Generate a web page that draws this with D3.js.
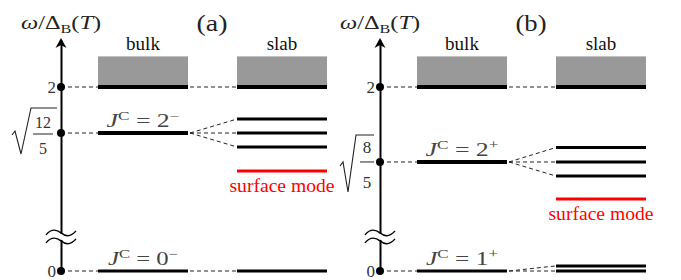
<!DOCTYPE html>
<html><head><meta charset="utf-8">
<script src="https://cdn.jsdelivr.net/npm/d3@7"></script>
<style>body{margin:0;background:#fff} svg{display:block}</style>
</head><body><svg id="c" width="681" height="280"></svg>
<script>
// ---- data ----
const panels = ["(a)", "(b)"];
const columns = ["bulk", "slab"];
const axisTicks = [[0, 2], [0, 2]];
const sqrtTicks = [1.549, 1.265];
const sqrtNumerators = ["12", "8"];
const sqrtDenominators = ["5", "5"];
const continuumBottom = [2, 2];
const continuumTop = [2.3, 2.3];
const bulkLevels = [[2, 1.549, 0], [2, 1.265, 0]];
const slabLevels = [[[2], [1.686, 1.549, 1.412], [0]], [[2], [1.407, 1.265, 1.127], [0.05, 0]]];
const surfaceLevels = [1.176, 0.902];
const modeLevels = [[1.549, 0], [1.265, 0]];
const modeJ = [["2", "0"], ["2", "1"]];
const modeParity = [["\u2212", "\u2212"], ["+", "+"]];
const surfaceLabel = "surface mode";

// ---- pick an installed serif font if any ----
function pickFont() {
  const cands = ["Liberation Serif", "DejaVu Serif", "Noto Serif", "Times New Roman", "Tinos", "FreeSerif", "Nimbus Roman", "Latin Modern Roman", "CMU Serif"];
  const ctx = document.createElement("canvas").getContext("2d");
  const probe = "mmmmmmmmmmlli bulk WQ@#";
  const w = f => { ctx.font = "40px " + f; return ctx.measureText(probe).width; };
  const base1 = w("monospace"), base2 = w("sans-serif");
  for (const c of cands) {
    const a = w(`"${c}", monospace`), b = w(`"${c}", sans-serif`);
    if (a !== base1 || b !== base2) return `"${c}", serif`;
  }
  return "serif";
}
const fontFam = pickFont();

// ---- scales ----
const upper = v => 87 + (2 - v) * 102;
const yDomain = [0, 0.3, 0.8, 2.46];
const y = d3.scaleLinear().domain(yDomain)
  .range([271, 271 - 0.3 * 102, upper(0.8), upper(2.46)]);
const panelX = d3.scalePoint().domain(panels).range([0, 319]);
const x = d3.scaleBand().domain(columns).range([98, 327]).paddingInner(0.3525).paddingOuter(0);
const axisX = 61;

const svg = d3.select("#c").style("font-family", fontFam);
const sqrtGeom = [
  {hook: [12, 2, 15, -2], bottom: [21, 21], top: [31, -25], barEnd: 57, numX: 43, numY: -5, fracX: [33, 53], fracY: 1, denY: 21, fs: 16},
  {hook: [21, 4, 24, 0], bottom: [29, 30], top: [37, -27], barEnd: 55, numX: 48, numY: -9, fracX: [41, 55], fracY: 0, denY: 26, fs: 17}
];
const jWidths = [[73, 70], [73, 72]];

panels.forEach((p, i) => {
  const g = svg.append("g").attr("transform", `translate(${panelX(p)},0)`);

  // continuum rectangles
  columns.forEach(c => {
    g.append("rect").attr("x", x(c)).attr("width", x.bandwidth())
      .attr("y", y(continuumTop[i])).attr("height", y(continuumBottom[i]) - y(continuumTop[i]))
      .attr("fill", "#999999");
    g.append("text").attr("x", x(c) + x.bandwidth() / 2).attr("y", 50)
      .attr("text-anchor", "middle").attr("font-size", 19)
      .attr("fill", "#111").text(c);
  });

  // dashed lines: axis -> bulk
  const allTicks = axisTicks[i].concat([sqrtTicks[i]]);
  allTicks.forEach(t => {
    g.append("line").attr("x1", axisX).attr("x2", x("bulk")).attr("y1", y(t)).attr("y2", y(t))
      .attr("stroke", "#222").attr("stroke-width", 1).attr("stroke-dasharray", "4,3");
  });
  // dashed: bulk -> slab
  bulkLevels[i].forEach((b, k) => {
    slabLevels[i][k].forEach(s => {
      g.append("line").attr("x1", x("bulk") + x.bandwidth() + 2).attr("x2", x("slab"))
        .attr("y1", y(b)).attr("y2", y(s))
        .attr("stroke", "#222").attr("stroke-width", 1).attr("stroke-dasharray", "4,3");
    });
  });

  // bulk levels
  bulkLevels[i].forEach(b => {
    g.append("line").attr("x1", x("bulk")).attr("x2", x("bulk") + x.bandwidth())
      .attr("y1", y(b)).attr("y2", y(b)).attr("stroke", "#000").attr("stroke-width", b === 0 ? 3 : 4);
  });
  // slab levels
  slabLevels[i].forEach(group => group.forEach(s => {
    g.append("line").attr("x1", x("slab")).attr("x2", x("slab") + x.bandwidth())
      .attr("y1", y(s)).attr("y2", y(s)).attr("stroke", "#000").attr("stroke-width", s === 2 ? 4 : 3);
  }));
  // surface mode
  g.append("line").attr("x1", x("slab")).attr("x2", x("slab") + x.bandwidth())
    .attr("y1", y(surfaceLevels[i])).attr("y2", y(surfaceLevels[i]))
    .attr("stroke", "#ff0000").attr("stroke-width", 3);
  g.append("text").attr("x", x("slab") + x.bandwidth() / 2).attr("y", y(surfaceLevels[i]) + 21)
    .attr("text-anchor", "middle").attr("font-size", 19)
    .attr("fill", "#ff0000").attr("textLength", 105).attr("lengthAdjust", "spacingAndGlyphs")
    .text(surfaceLabel);

  // mode labels
  modeLevels[i].forEach((m, k) => {
    const t = g.append("text").attr("x", x("bulk") + x.bandwidth() / 2).attr("y", y(m) - 6)
      .attr("text-anchor", "middle").attr("font-size", 18)
      .attr("fill", "#444").attr("textLength", jWidths[i][k]).attr("lengthAdjust", "spacingAndGlyphs");
    t.append("tspan").attr("font-style", "italic").text("J");
    t.append("tspan").attr("font-size", 12).attr("dy", -7).text("C");
    t.append("tspan").attr("dy", 7).text(" = " + modeJ[i][k]);
    t.append("tspan").attr("font-size", 12).attr("dy", -7).text(modeParity[i][k]);
  });

  // axis
  const ax = g.append("g").attr("transform", `translate(${axisX},0)`)
    .call(d3.axisLeft(y).tickValues(axisTicks[i]).tickSize(0).tickPadding(5).tickFormat(d3.format("d")));
  ax.attr("font-family", null);
  ax.select(".domain").attr("stroke", "#000").attr("stroke-width", 2);
  ax.selectAll(".tick text").attr("font-size", 17).attr("fill", "#333");

  // arrow head
  const yt = y(yDomain[yDomain.length - 1]);
  g.append("path").attr("d", `M${axisX},${yt - 2} L${axisX + 5.5},${yt + 8} L${axisX},${yt + 5} L${axisX - 5.5},${yt + 8} Z`)
    .attr("fill", "#000");

  // break symbol
  const yb = (y(0.3) + y(0.8)) / 2 + 12;
  g.append("rect").attr("x", axisX - 4).attr("y", yb - 3).attr("width", 8).attr("height", 6).attr("fill", "#fff");
  [-4, 4].forEach(o => {
    g.append("path").attr("d", `M${axisX - 15},${yb + o + 2} C${axisX - 10},${yb + o - 4} ${axisX - 5},${yb + o - 4} ${axisX},${yb + o} S${axisX + 10},${yb + o + 4} ${axisX + 15},${yb + o - 2}`)
      .attr("fill", "none").attr("stroke", "#000").attr("stroke-width", 1.4);
  });

  // dots
  allTicks.forEach(t => {
    g.append("circle").attr("cx", axisX).attr("cy", y(t)).attr("r", 4).attr("fill", "#000");
  });

  // sqrt tick label
  const sg = sqrtGeom[i], ty = y(sqrtTicks[i]);
  g.append("path").attr("d", `M${sg.hook[0]},${ty + sg.hook[1]} L${sg.hook[2]},${ty + sg.hook[3]} L${sg.bottom[0]},${ty + sg.bottom[1]} L${sg.top[0]},${ty + sg.top[1]} H${sg.barEnd}`)
    .attr("fill", "none").attr("stroke", "#222").attr("stroke-width", 1.1);
  g.append("text").attr("x", sg.numX).attr("y", ty + sg.numY).attr("text-anchor", "middle")
    .attr("font-size", sg.fs).attr("fill", "#333").text(sqrtNumerators[i]);
  g.append("line").attr("x1", sg.fracX[0]).attr("x2", sg.fracX[1]).attr("y1", ty + sg.fracY).attr("y2", ty + sg.fracY)
    .attr("stroke", "#222").attr("stroke-width", 1);
  g.append("text").attr("x", sg.numX).attr("y", ty + sg.denY).attr("text-anchor", "middle")
    .attr("font-size", sg.fs).attr("fill", "#333").text(sqrtDenominators[i]);

  // axis title
  const at = g.append("text").attr("x", axisX).attr("y", 29).attr("text-anchor", "middle")
    .attr("font-size", 18).attr("fill", "#222")
    .attr("textLength", 80).attr("lengthAdjust", "spacingAndGlyphs");
  at.append("tspan").attr("font-style", "italic").text("\u03c9");
  at.append("tspan").text("/\u0394");
  at.append("tspan").attr("font-size", 12).attr("dy", 4).text("B");
  at.append("tspan").attr("dy", -4).text("(");
  at.append("tspan").attr("font-style", "italic").text("T");
  at.append("tspan").text(")");

  // panel label
  g.append("text").attr("x", 212).attr("y", 31).attr("text-anchor", "middle")
    .attr("font-size", 24).attr("fill", "#222")
    .attr("textLength", 31).attr("lengthAdjust", "spacingAndGlyphs").text(p);
});
</script></body></html>
